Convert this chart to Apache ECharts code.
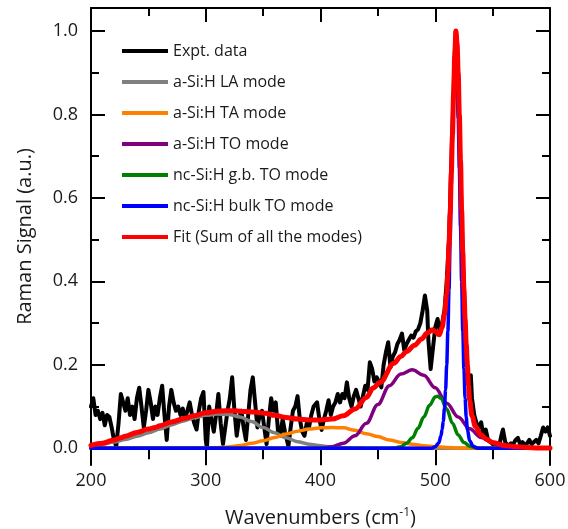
<!DOCTYPE html>
<html><head><meta charset="utf-8">
<script src="https://cdn.jsdelivr.net/npm/echarts@6/dist/echarts.min.js"></script>
<style>html,body{margin:0;padding:0;background:#fff}#c{width:568px;height:529px}</style>
</head><body><div id="c"></div>
<script>
// ---- data ----
const seriesNames = ["Expt. data","a-Si:H LA mode","a-Si:H TA mode","a-Si:H TO mode","nc-Si:H g.b. TO mode","nc-Si:H bulk TO mode","Fit (Sum of all the modes)"];
const yTickValues = [0,0.2,0.4,0.6,0.8,1.0];
const yMinorValues = [0.1,0.3,0.5,0.7,0.9];

const exptWn = [200,202,204,206,208,210,212,214,216,218,220,222,224,226,228,230,232,234,236,238,240,242,244,246,248,250,252,254,256,258,260,262,264,266,268,270,272,274,276,278,280,282,284,286,288,290,292,294,296,298,300,301,303,305,307,309,311,313,315,317,319,321,323,325,327,329,331,333,335,337,339,341,343,345,347,349,351,353,355,357,359,361,363,365,367,369,372,374,376,378,380,382,384,386,388,390,392,394,397,399,401,403,405,407,409,411,413,415,417,419,421,423,425,427,429,431,433,435,437,439,441,443,445,447,449,451,453,455,457,459,461,463,465,467,469,471,473,475,477,479,481,483,485,487,489,491,493,494,496,498,500,502,504,506,508,510,512,514,516,517,518,519,520,522,524,526,528,530,531,532,534,536,538,540,542,544,546,548,550,552,554,556,558,559,561,563,566,568,570,572,574,576,578,580,582,584,586,588,590,592,594,596,598,600];
const exptVal = [0.10,0.12,0.08,0.09,0.07,0.085,0.055,0.08,0.075,0.05,0.02,0.005,0.06,0.13,0.11,0.09,0.12,0.08,0.10,0.07,0.12,0.145,0.10,0.05,0.09,0.14,0.11,0.07,0.10,0.08,0.12,0.15,0.08,0.02,0.10,0.14,0.11,0.09,0.10,0.08,0.095,0.07,0.09,0.11,0.08,0.06,0.045,0.09,0.12,0.135,0.02,0.0,0.10,0.07,0.04,0.08,0.13,0.06,0.01,0.05,0.09,0.12,0.17,0.09,0.03,0.07,0.09,0.05,0.02,0.08,0.14,0.17,0.11,0.05,0.08,0.09,0.05,0.01,0.07,0.12,0.09,0.11,0.04,0.03,0.07,0.04,0.005,0.05,0.09,0.10,0.125,0.07,0.04,0.03,0.06,0.05,0.08,0.10,0.11,0.07,0.044,0.07,0.09,0.115,0.08,0.10,0.11,0.13,0.11,0.13,0.12,0.158,0.12,0.10,0.125,0.14,0.12,0.10,0.125,0.15,0.14,0.206,0.19,0.16,0.17,0.16,0.146,0.20,0.23,0.254,0.194,0.22,0.23,0.25,0.26,0.275,0.235,0.25,0.26,0.27,0.265,0.28,0.285,0.30,0.33,0.366,0.33,0.26,0.19,0.24,0.29,0.31,0.28,0.30,0.33,0.40,0.50,0.68,0.86,0.95,1.0,0.96,0.88,0.66,0.45,0.30,0.20,0.13,0.175,0.12,0.08,0.06,0.05,0.062,0.03,0.045,0.02,0.015,0.01,0.012,0.008,0.01,0.035,0.045,0.015,0.006,0.012,0.01,0.02,0.025,0.01,0.015,0.008,0.012,0.02,0.01,0.015,0.02,0.012,0.03,0.05,0.04,0.05,0.03];

const laWn  = [200,210,220,230,240,250,260,270,280,290,300,310,320,330,340,350,360,370,380,390,400,410,420,430,440,450,600];
const laVal = [0.006,0.01,0.015,0.021,0.029,0.037,0.046,0.056,0.065,0.073,0.079,0.082,0.081,0.075,0.064,0.05,0.037,0.025,0.016,0.01,0.006,0.003,0.0015,0.0007,0.0003,0,0];

const taWn  = [200,290,300,310,320,330,340,350,360,370,380,390,400,410,420,430,440,450,460,470,480,490,500,510,520,530,540,600];
const taVal = [0,0,0.001,0.0015,0.003,0.007,0.012,0.018,0.026,0.034,0.041,0.046,0.049,0.05,0.049,0.043,0.035,0.028,0.02,0.014,0.01,0.006,0.004,0.002,0.001,0.0005,0,0];

const toWn  = [200,390,400,410,420,430,440,450,460,470,480,490,500,510,520,530,540,550,560,570,580,600];
const toVal = [0,0,0,0.004,0.012,0.03,0.06,0.105,0.15,0.178,0.188,0.175,0.145,0.108,0.075,0.047,0.026,0.013,0.006,0.002,0,0];

const gbWn  = [200,460,465,470,475,480,485,490,495,500,502,505,510,515,520,525,530,535,540,600];
const gbVal = [0,0,0.001,0.004,0.012,0.025,0.048,0.075,0.103,0.123,0.125,0.12,0.094,0.06,0.032,0.014,0.005,0.0015,0,0];

const bulkWn  = [200,497,500,503,505,506,507,508,509,510,511,512,513,514,515,516,517,518,519,520,521,522,523,524,525,526,527,528,530,533,537,600];
const bulkVal = [0,0,0.004,0.013,0.03,0.045,0.065,0.095,0.14,0.2,0.28,0.38,0.5,0.63,0.75,0.85,0.92,0.93,0.88,0.79,0.67,0.53,0.4,0.28,0.19,0.12,0.075,0.045,0.018,0.005,0,0];

const fitWn  = [200,210,220,226,230,240,250,256,260,270,282,290,300,310,317,325,334,342,352,360,370,380,390,400,410,420,430,440,446,452,464,470,475,482,488,493,497.6,500,503.5,506,508,510,511,512,513,514,515,516,517,518,519,520,521,522,523,524,525,526,527,528,529,530,532,535,540,545,550,560,570,580,590,600];
const fitVal = [0.007,0.012,0.02,0.025,0.029,0.038,0.046,0.05,0.054,0.063,0.072,0.078,0.085,0.089,0.09,0.09,0.088,0.087,0.084,0.079,0.074,0.07,0.068,0.068,0.07,0.078,0.094,0.122,0.145,0.158,0.204,0.22,0.232,0.247,0.262,0.276,0.284,0.28,0.272,0.29,0.32,0.37,0.42,0.49,0.56,0.66,0.75,0.85,0.94,1.0,0.97,0.9,0.8,0.69,0.57,0.47,0.38,0.31,0.25,0.2,0.15,0.115,0.078,0.052,0.032,0.021,0.014,0.007,0.004,0.002,0.001,0.001];

// ---- chart ----
const zip = (a, b) => a.map((x, i) => [x, b[i]]);
const FONT = '"Open Sans", sans-serif';
const TXT = '#1a1a1a';
const Y_MIN = -0.04, Y_MAX = 1.055;
const GRID = { left: 91, right: 18, top: 8, bottom: 64 };
const gridH = 529 - GRID.top - GRID.bottom;
// the bottom axis sits at y = 0 (lifted from the grid bottom)
const xAxisLift = -(0 - Y_MIN) / (Y_MAX - Y_MIN) * gridH;

function lineSeries(name, wn, val, color, width, smooth) {
  return {
    name, type: 'line', data: zip(wn, val),
    xAxisIndex: 0, yAxisIndex: 0,
    symbol: 'none', showSymbol: false,
    smooth: smooth ? 0.35 : false, smoothMonotone: 'x',
    itemStyle: { color },
    lineStyle: { color, width, join: 'round', cap: 'round' },
    emphasis: { disabled: true },
    animation: false
  };
}

const yCommon = { type: 'value', min: Y_MIN, max: Y_MAX, splitLine: { show: false } };
const axLine = { show: true, onZero: false, lineStyle: { color: '#000', width: 2 } };

const option = {
  animation: false,
  textStyle: { fontFamily: FONT },
  grid: Object.assign({ containLabel: false, outerBoundsMode: 'none' }, GRID),
  legend: {
    show: true, orient: 'vertical', left: 117, top: 36,
    icon: 'rect', itemWidth: 46, itemHeight: 4, itemGap: 11,
    selectedMode: false,
    textStyle: { fontFamily: FONT, fontSize: 16, color: TXT, lineHeight: 20 },
    data: seriesNames
  },
  xAxis: [
    {
      type: 'value', position: 'bottom', min: 200, max: 600, interval: 100,
      offset: xAxisLift,
      axisLine: { show: true, onZero: false, lineStyle: { color: '#000', width: 2 } },
      axisTick: { show: true, inside: false, length: 17, lineStyle: { color: '#000', width: 2 } },
      minorTick: { show: true, splitNumber: 2, length: 11, lineStyle: { color: '#000', width: 2 } },
      axisLabel: { fontSize: 18, color: TXT, margin: 24, fontFamily: FONT },
      splitLine: { show: false },
      name: 'Wavenumbers (cm{sup|-1})', nameLocation: 'middle', nameGap: 58,
      nameTextStyle: { fontSize: 20, color: TXT, fontFamily: FONT,
        rich: { sup: { fontSize: 12, color: TXT, fontFamily: FONT, padding: [0, 0, 12, 0] } } }
    },
    {
      type: 'value', position: 'top', min: 200, max: 600, interval: 100,
      axisLine: axLine,
      axisTick: { show: true, inside: true, length: 14, lineStyle: { color: '#000', width: 2 } },
      minorTick: { show: true, splitNumber: 2, length: 8, lineStyle: { color: '#000', width: 2 } },
      axisLabel: { show: false }, splitLine: { show: false }
    }
  ],
  yAxis: [
    Object.assign({}, yCommon, {
      position: 'left', axisLine: axLine,
      axisTick: { show: true, inside: true, length: 14, customValues: yTickValues, lineStyle: { color: '#000', width: 2 } },
      axisLabel: { show: true, customValues: yTickValues, formatter: v => v.toFixed(1), fontSize: 18, color: TXT, margin: 13, fontFamily: FONT },
      name: 'Raman Signal (a.u.)', nameLocation: 'middle', nameGap: 56, nameRotate: 90,
      nameTextStyle: { fontSize: 20, color: TXT, fontFamily: FONT }
    }),
    Object.assign({}, yCommon, {
      position: 'left', axisLine: { show: false },
      axisTick: { show: true, inside: true, length: 8, customValues: yMinorValues, lineStyle: { color: '#000', width: 2 } },
      axisLabel: { show: false }
    }),
    Object.assign({}, yCommon, {
      position: 'right', axisLine: axLine,
      axisTick: { show: true, inside: true, length: 14, customValues: yTickValues, lineStyle: { color: '#000', width: 2 } },
      axisLabel: { show: false }
    }),
    Object.assign({}, yCommon, {
      position: 'right', axisLine: { show: false },
      axisTick: { show: true, inside: true, length: 8, customValues: yMinorValues, lineStyle: { color: '#000', width: 2 } },
      axisLabel: { show: false }
    })
  ],
  series: [
    lineSeries(seriesNames[0], exptWn, exptVal, '#000000', 4, false),
    lineSeries(seriesNames[1], laWn, laVal, '#808080', 3.5, true),
    lineSeries(seriesNames[2], taWn, taVal, '#ff8000', 3.5, true),
    lineSeries(seriesNames[3], toWn, toVal, '#800080', 3.5, true),
    lineSeries(seriesNames[4], gbWn, gbVal, '#008000', 3.5, true),
    lineSeries(seriesNames[5], bulkWn, bulkVal, '#0000ff', 3.5, true),
    lineSeries(seriesNames[6], fitWn, fitVal, '#ff0000', 5, true)
  ]
};

const chart = echarts.init(document.getElementById('c'), null, { renderer: 'canvas' });
chart.setOption(option);
</script></body></html>
